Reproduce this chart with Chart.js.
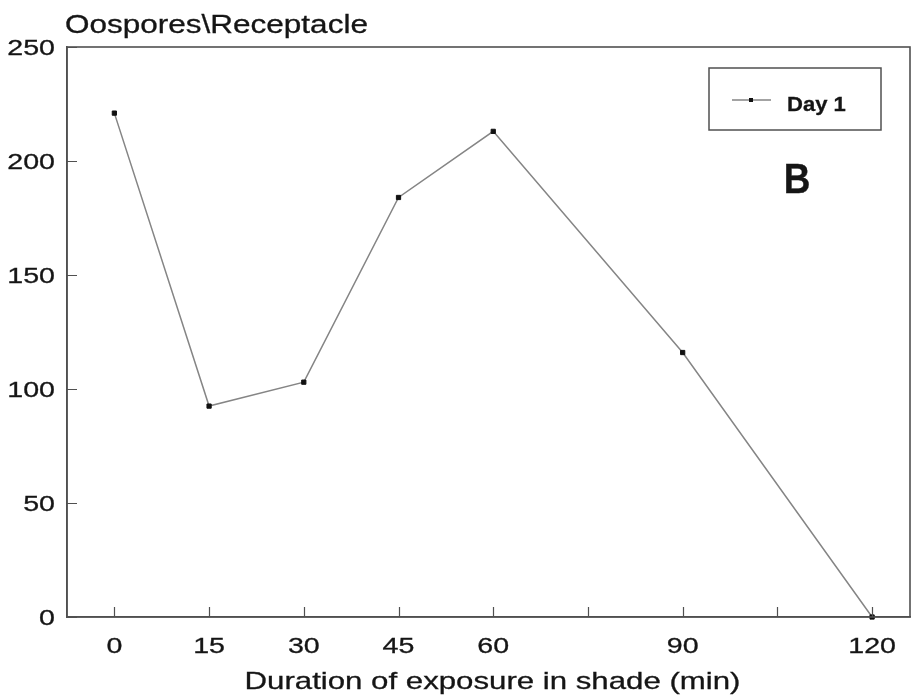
<!DOCTYPE html>
<html>
<head>
<meta charset="utf-8">
<title>Oospores per receptacle</title>
<script src="https://cdn.jsdelivr.net/npm/chart.js@4.4.0/dist/chart.umd.min.js"></script>
<style>
  html, body { margin: 0; padding: 0; background: #fff; }
  #wrap { width: 915px; height: 700px; }
</style>
</head>
<body>
<div id="wrap"><canvas id="oospore_chart" width="915" height="700"></canvas></div>
<script>
// values
let minutes = [0, 15, 30, 45, 60, 90, 120];
let day1_counts = [221, 92.5, 103, 184, 213, 116, 0];

// tick marks (75 and 105 have a mark but no label)
let x_ticks = [0, 15, 30, 45, 60, 75, 90, 105, 120];
let x_labelled = [0, 15, 30, 45, 60, 90, 120];
let y_ticks = [0, 50, 100, 150, 200, 250];

let series_label = 'Day 1';
let y_title = 'Oospores\\Receptacle';
let x_title = 'Duration of exposure in shade (min)';
let panel_letter = 'B';

const font_family = '"Liberation Sans", Arial, Helvetica, sans-serif';
const ink = '#151515';
const frame_color = '#505050';

let chart;

// the scanned lettering is wide, so stretch the glyphs sideways by sx
function draw_text(c, text, x, y, font, sx, align, baseline) {
  c.save();
  c.translate(x, y);
  c.scale(sx, 1);
  c.font = font;
  c.fillStyle = ink;
  c.strokeStyle = ink;
  c.lineWidth = 0.3;
  c.textAlign = align || 'left';
  c.textBaseline = baseline || 'alphabetic';
  c.fillText(text, 0, 0);
  c.strokeText(text, 0, 0);
  c.restore();
}

const frame_plugin = {
  id: 'frame_plugin',
  afterDraw(chart) {
    const c = chart.ctx;
    const a = chart.chartArea;
    const xs = chart.scales.x;
    const ys = chart.scales.y;

    c.save();

    // box round the plot
    c.strokeStyle = frame_color;
    c.lineWidth = 1.6;
    c.strokeRect(a.left, a.top, a.right - a.left, a.bottom - a.top);

    // inward tick marks
    c.lineWidth = 1.2;
    c.beginPath();
    x_ticks.forEach(v => {
      const px = Math.round(xs.getPixelForValue(v)) + 0.5;
      c.moveTo(px, a.bottom);
      c.lineTo(px, a.bottom - 10);
    });
    y_ticks.forEach(v => {
      const py = Math.round(ys.getPixelForValue(v)) + 0.5;
      c.moveTo(a.left, py);
      c.lineTo(a.left + 10, py);
    });
    c.stroke();

    // legend box, top right inside the plot
    const ds = chart.data.datasets[0];
    const lx = a.right - 201;
    const ly = a.top + 21;
    c.strokeStyle = frame_color;
    c.lineWidth = 1.5;
    c.strokeRect(lx, ly, 172, 62);
    c.strokeStyle = ds.borderColor;
    c.lineWidth = ds.borderWidth;
    c.beginPath();
    c.moveTo(lx + 23, ly + 32);
    c.lineTo(lx + 62, ly + 32);
    c.stroke();
    c.fillStyle = ds.pointBackgroundColor;
    c.fillRect(lx + 40, ly + 30, 4, 4);
    c.restore();

    draw_text(c, ds.label, lx + 78, ly + 43, 'bold 21px ' + font_family, 1.05);

    // tick labels, placed with the scales
    x_labelled.forEach(v => {
      draw_text(c, String(v), xs.getPixelForValue(v), a.bottom + 36, '22px ' + font_family, 1.3, 'center');
    });
    y_ticks.forEach(v => {
      draw_text(c, String(v), a.left - 12, ys.getPixelForValue(v) + 2, '22px ' + font_family, 1.3, 'right', 'middle');
    });

    // titles and the panel letter
    draw_text(c, y_title, a.left - 2, a.top - 14, '25px ' + font_family, 1.26);
    draw_text(c, x_title, (a.left + a.right) / 2 + 4, a.bottom + 72, '24px ' + font_family, 1.3, 'center');
    draw_text(c, panel_letter, a.right - 113, a.top + 146, 'bold 42px ' + font_family, 0.88, 'center');
  }
};

const ctx = document.getElementById('oospore_chart').getContext('2d');

chart = new Chart(ctx, {
  type: 'line',
  data: {
    datasets: [{
      label: series_label,
      data: minutes.map((m, i) => ({ x: m, y: day1_counts[i] })),
      borderColor: '#858585',
      borderWidth: 1.5,
      pointStyle: 'rect',
      pointRadius: 3,
      pointBackgroundColor: '#111',
      pointBorderColor: '#111',
      pointBorderWidth: 1,
      tension: 0,
      clip: false
    }]
  },
  options: {
    responsive: false,
    animation: false,
    events: [],
    layout: { padding: { top: 47, right: 2, left: 0, bottom: 0 } },
    plugins: {
      legend: { display: false },
      tooltip: { enabled: false },
      title: { display: false }
    },
    scales: {
      x: {
        type: 'linear',
        min: -7.5,
        max: 126,
        afterBuildTicks: s => { s.ticks = x_ticks.map(v => ({ value: v })); },
        afterFit: s => { s.height = 83; },
        grid: { display: false },
        border: { display: true, color: frame_color, width: 1.6 },
        ticks: { display: false }
      },
      y: {
        min: 0,
        max: 250,
        afterBuildTicks: s => { s.ticks = y_ticks.map(v => ({ value: v })); },
        afterFit: s => { s.width = 67; },
        grid: { display: false },
        border: { display: true, color: frame_color, width: 1.6 },
        ticks: { display: false }
      }
    }
  },
  plugins: [frame_plugin]
});
</script>
</body>
</html>
